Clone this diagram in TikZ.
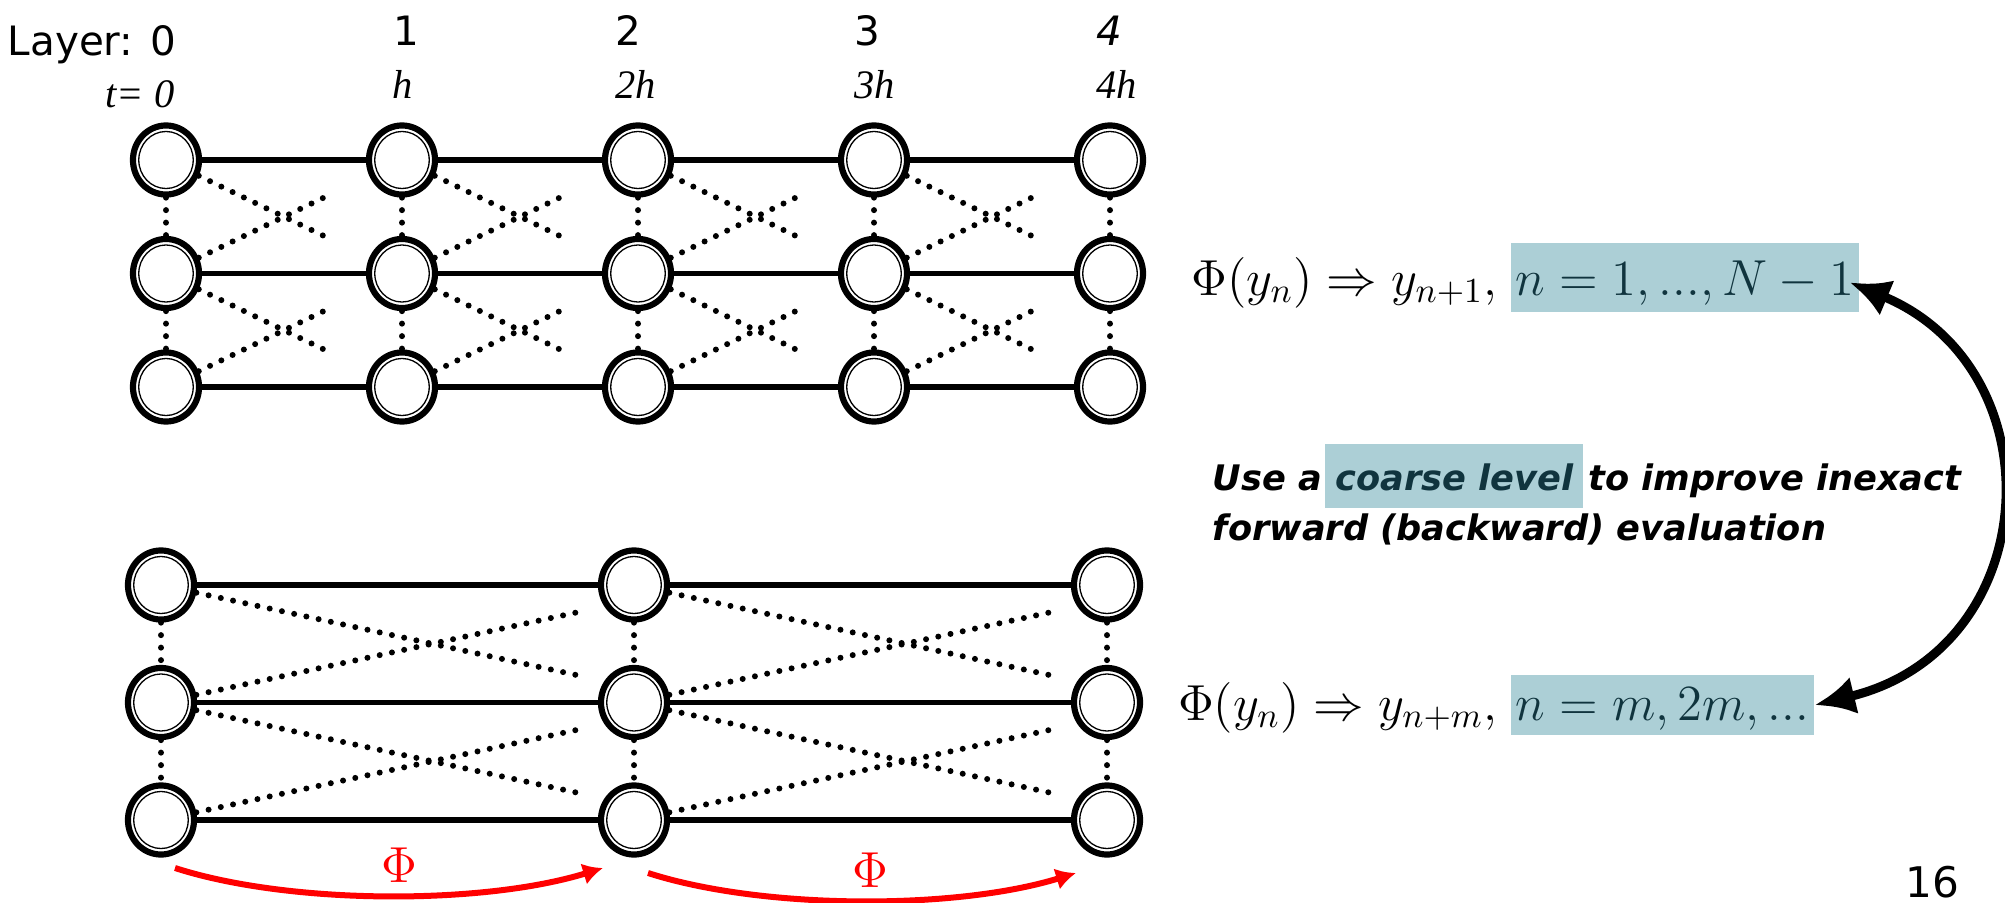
\documentclass[tikz,border=0pt]{standalone}
\usepackage{fontspec}
\usepackage{xcolor}
\usepackage{tikz}
\usetikzlibrary{arrows.meta,positioning,calc,shapes.geometric}

\newfontfamily\labelfont{DejaVu Sans}
\newfontfamily\notefont{DejaVu Sans}
\newfontfamily\timefont{Liberation Serif}
\definecolor{hlblue}{RGB}{172,207,214}
\definecolor{hltext}{RGB}{16,52,62}

\begin{document}
\begin{tikzpicture}[
  x=0.01cm, y=-0.01cm,
  neuron/.style={ellipse, draw, line width=0.062cm, minimum width=0.66cm, minimum height=0.69cm, inner sep=0pt, fill=white,
    path picture={\draw[line width=0.013cm] (path picture bounding box.center) ellipse [x radius=0.272cm, y radius=0.285cm];}},
  wire/.style={line width=0.055cm},
  dotline/.style={line width=0.06cm, line cap=round, dash pattern=on 0pt off 0.125cm},
  layerlabel/.style={inner sep=0pt, font=\labelfont\fontsize{11.5}{14}\selectfont},
  timelabel/.style={inner sep=0pt, font=\timefont\itshape\fontsize{11.5}{14}\selectfont},
  hl/.style={fill=hlblue, text=hltext, inner ysep=0pt, inner xsep=0.5mm},
  formula/.style={font=\fontsize{14.5}{17}\selectfont},
  note/.style={inner sep=0pt, font=\notefont\bfseries\itshape\fontsize{10}{12}\selectfont},
  phi/.style={inner sep=0pt, red, font=\fontsize{15}{18}\selectfont},
  phiarrow/.style={-{Latex[length=2mm,width=2.2mm]}, line width=0.06cm, red},
  bigarrow/.style={{Latex[length=4mm,width=3.8mm]}-{Latex[length=4mm,width=3.8mm]}, line width=0.09cm}
]
\useasboundingbox (0,0) rectangle (2005,903);

% layer numbers and times
\node[layerlabel, anchor=base east] (layer0) at (177,55) {Layer: 0};
\node[layerlabel, anchor=base west] (layer1) at (393,45) {1};
\node[layerlabel, anchor=base west] (layer2) at (615,45) {2};
\node[layerlabel, anchor=base west] (layer3) at (854,45) {3};
\node[layerlabel, anchor=base west] (layer4) at (1096,45) {\itshape 4};
\node[timelabel, anchor=base east] (time0) at (175,107) {t= 0};
\node[timelabel, anchor=base west] (time1) at (392,98) {h};
\node[timelabel, anchor=base west] (time2) at (615,98) {2h};
\node[timelabel, anchor=base west] (time3) at (854,98) {3h};
\node[timelabel, anchor=base west] (time4) at (1096,98) {4h};

% fine level
\foreach \col in {0,...,4}
  \foreach \row in {0,1,2}
    \node[neuron] (f\col\row) at ({166+236*\col},{160+113.5*\row}) {};
\foreach \col/\nxt in {0/1,1/2,2/3,3/4} {
  \foreach \row in {0,1,2}
    \draw[wire] (f\col\row) -- (f\nxt\row);
  \foreach \row/\low in {0/1,1/2} {
    \draw[dotline] (f\col\row) -- ($(f\col\row)!0.68!(f\nxt\low)$);
    \draw[dotline] (f\col\low) -- ($(f\col\low)!0.68!(f\nxt\row)$);
  }
}
\foreach \col in {0,...,4}
  \foreach \row/\low in {0/1,1/2}
    \draw[dotline] (f\col\row) -- (f\col\low);

% coarse level
\foreach \col in {0,1,2}
  \foreach \row in {0,1,2}
    \node[neuron] (c\col\row) at ({161+473*\col},{585+117.5*\row}) {};
\foreach \col/\nxt in {0/1,1/2} {
  \foreach \row in {0,1,2}
    \draw[wire] (c\col\row) -- (c\nxt\row);
  \foreach \row/\low in {0/1,1/2} {
    \draw[dotline] (c\col\row) -- ($(c\col\row)!0.88!([yshift=1.5mm]c\nxt\low.center)$);
    \draw[dotline] (c\col\low) -- ($(c\col\low)!0.88!([yshift=-1.5mm]c\nxt\row.center)$);
  }
}
\foreach \col in {0,1,2}
  \foreach \row/\low in {0/1,1/2}
    \draw[dotline] (c\col\row) -- (c\col\low);

% coarse propagator
\coordinate (phistart0) at (175,868);
\coordinate (phiend0) at (603,868);
\coordinate (phistart1) at (648,873);
\coordinate (phiend1) at (1076,873);
\draw[phiarrow] (phistart0) .. controls +(115,37) and +(-120,37) .. (phiend0)
  node[phi, midway, above=1mm, xshift=1.2mm] (phi0) {$\Phi$};
\draw[phiarrow] (phistart1) .. controls +(115,37) and +(-120,37) .. (phiend1)
  node[phi, midway, above=1mm, xshift=1mm] (phi1) {$\Phi$};

% formulas
\node[hl, formula, anchor=west, text height=0.52cm, text depth=0.17cm] (hlfine) at (1510,277.5) {$n=1,...,N-1$};
\node[formula, anchor=base east, inner sep=0pt] (fine) at ([xshift=-1.2mm]hlfine.base west) {$\Phi(y_n)\Rightarrow y_{n+1},$};
\node[hl, formula, anchor=west, text height=0.45cm, text depth=0.15cm] (hlcoarse) at (1510,705) {$n=m,2m,...$};
\node[formula, anchor=base east, inner sep=0pt] (coarse) at ([xshift=-1.2mm]hlcoarse.base west) {$\Phi(y_n)\Rightarrow y_{n+m},$};

% remark
\node[note, anchor=base west] (usea) at (1212,490) {Use a};
\node[note, hl, inner xsep=1mm, text height=0.46cm, text depth=0.18cm, anchor=base west] (coarselevel) at ([xshift=0.2mm]usea.base east) {coarse level};
\node[note, anchor=base west] (improve) at ([xshift=0.4mm]coarselevel.base east) {to improve inexact};
\node[note, anchor=base west] (forward) at (1212,540) {forward (backward) evaluation};

\draw[bigarrow] ([xshift=-1mm,yshift=-0.5mm]hlfine.east) .. controls +(209,87) and +(230,-56) .. (hlcoarse.east);

\node[layerlabel, font=\labelfont\fontsize{12}{14}\selectfont, anchor=base east] (pagenum) at (1960,897) {16};
\end{tikzpicture}
\end{document}
